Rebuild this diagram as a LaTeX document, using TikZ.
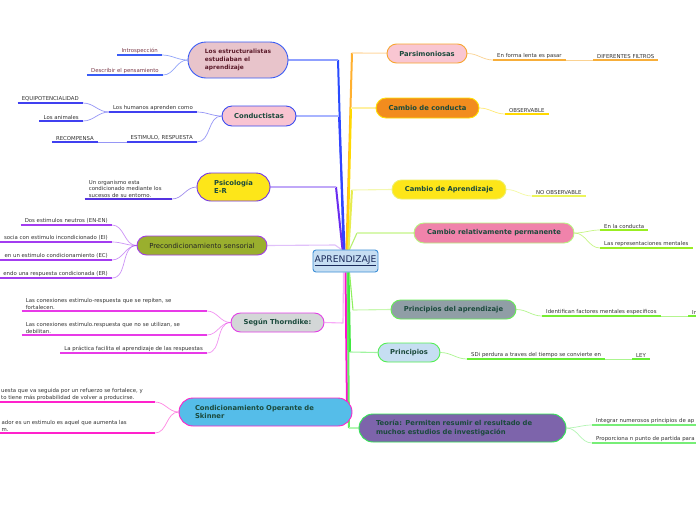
\documentclass[tikz,border=0pt]{standalone}
\usepackage{fontspec}
\setmainfont{DejaVu Sans}
\usetikzlibrary{shapes.misc}
\pgfdeclarelayer{bg}
\pgfdeclarelayer{paper}
\pgfsetlayers{paper,bg,main}
\definecolor{apFill}{HTML}{C6DEF2}
\definecolor{apDraw}{HTML}{3D8FD6}
\definecolor{apText}{HTML}{1A2A5A}
\definecolor{tDark}{HTML}{1B4A3C}
\definecolor{subText}{HTML}{333333}
\definecolor{esText}{HTML}{5B1A2A}
\definecolor{esSub}{HTML}{7A3848}
% topic fills / borders
\definecolor{esFill}{HTML}{E8C4CB}\definecolor{esDraw}{HTML}{3A5CF5}
\definecolor{coFill}{HTML}{F9C4D2}\definecolor{coDraw}{HTML}{3A4CF0}
\definecolor{psFill}{HTML}{FDE619}\definecolor{psDraw}{HTML}{7033E8}
\definecolor{prFill}{HTML}{9AAF2E}\definecolor{prDraw}{HTML}{A23CE8}
\definecolor{thFill}{HTML}{D3D7D7}\definecolor{thDraw}{HTML}{E23EE6}
\definecolor{skFill}{HTML}{55BDE9}\definecolor{skDraw}{HTML}{FF22C8}
\definecolor{paFill}{HTML}{F9C6D2}\definecolor{paDraw}{HTML}{F7A530}
\definecolor{ccFill}{HTML}{F28C1E}\definecolor{ccDraw}{HTML}{FFE000}
\definecolor{caFill}{HTML}{FDE619}\definecolor{caDraw}{HTML}{EEF06A}
\definecolor{crFill}{HTML}{F083AB}\definecolor{crDraw}{HTML}{B7F57E}
\definecolor{pbFill}{HTML}{909EA6}\definecolor{pbDraw}{HTML}{66EE55}
\definecolor{piFill}{HTML}{C6DEF2}\definecolor{piDraw}{HTML}{55EE55}
\definecolor{teFill}{HTML}{7D64AB}\definecolor{teDraw}{HTML}{33E855}
% underline colours
\definecolor{esU}{HTML}{3A5CF5}
\definecolor{coU}{HTML}{4040F0}
\definecolor{psU}{HTML}{5533E0}
\definecolor{prU}{HTML}{A33CF0}
\definecolor{thU}{HTML}{E83AE8}
\definecolor{skU}{HTML}{FF22CC}
\definecolor{paU}{HTML}{F7AE3A}
\definecolor{ccU}{HTML}{FFD800}
\definecolor{caU}{HTML}{ECF55A}
\definecolor{crU}{HTML}{99EE22}
\definecolor{pbU}{HTML}{77EE33}
\definecolor{piU}{HTML}{66EE33}
\definecolor{teU}{HTML}{77EE77}
% trunk colours (strong / light)
\definecolor{esT}{HTML}{2A4CFF}\definecolor{esL}{HTML}{8FA0FF}
\definecolor{coT}{HTML}{3344FF}\definecolor{coL}{HTML}{A8B4FF}
\definecolor{psT}{HTML}{6A2CF0}\definecolor{psL}{HTML}{C0A8F8}
\definecolor{prT}{HTML}{B050F0}\definecolor{prL}{HTML}{E0C0FA}
\definecolor{thT}{HTML}{F040F0}\definecolor{thL}{HTML}{F8A8F8}
\definecolor{skT}{HTML}{FF10D0}
\definecolor{paT}{HTML}{FFB030}\definecolor{paL}{HTML}{FFD8A0}
\definecolor{ccT}{HTML}{FFD800}\definecolor{ccL}{HTML}{FFF0A0}
\definecolor{caT}{HTML}{E6EC50}\definecolor{caL}{HTML}{F4F8B0}
\definecolor{crT}{HTML}{B8F070}\definecolor{crL}{HTML}{D8F8B0}
\definecolor{pbT}{HTML}{90F060}\definecolor{pbL}{HTML}{C8F8B0}
\definecolor{piT}{HTML}{40E840}\definecolor{piL}{HTML}{A0F4A0}
\definecolor{teT}{HTML}{60F060}\definecolor{teL}{HTML}{B0F8B0}
\tikzset{
 topic/.style={rounded rectangle, line width=0.9pt, inner sep=0pt, text=tDark,
   font=\fontsize{6.8}{8.3}\selectfont\bfseries, align=center},
 sub/.style={font=\fontsize{5.4}{6.6}\selectfont, text=subText, inner xsep=4pt,
   inner ysep=1.5pt, align=left},
 ul/.style={draw=#1, line width=1.5pt},
 cn/.style={draw=#1, line width=0.7pt, opacity=0.55},
 tk/.style={draw=#1, line width=2pt, line join=round},
 tl/.style={draw=#1, line width=1.1pt, line join=round},
}
\begin{document}
\begin{tikzpicture}[x=1pt,y=-1pt]
\useasboundingbox (0,0) rectangle (696,520);
\begin{pgfonlayer}{paper}
\fill[white] (0,0) rectangle (696,520);
\end{pgfonlayer}

% central node
\node[rectangle, rounded corners=3pt, fill=apFill, draw=apDraw, line width=0.9pt,
  minimum width=65pt, minimum height=22pt, inner sep=0pt, text=apText,
  font=\fontsize{9.2}{10}\selectfont] (ap) at (345.5,261) {\underline{APRENDIZAJE}};

% left topics
\node[topic, fill=esFill, draw=esDraw, minimum width=100pt, minimum height=36pt,
  text=esText, font=\fontsize{5.9}{8.3}\selectfont\bfseries, align=left] (es) at (238,60)
  {Los estructuralistas\\estudiaban el\\aprendizaje};
\node[topic, fill=coFill, draw=coDraw, minimum width=74pt, minimum height=20pt] (co) at (259,116) {Conductistas};
\node[topic, fill=psFill, draw=psDraw, minimum width=73pt, minimum height=28pt, align=left] (ps) at (233.5,187) {Psicología\\E-R};
\node[topic, fill=prFill, draw=prDraw, minimum width=130pt, minimum height=19pt,
  font=\fontsize{6.9}{8.3}\selectfont, text=black!85] (pr) at (202,245.5) {Precondicionamiento sensorial};
\node[topic, fill=thFill, draw=thDraw, minimum width=93pt, minimum height=19pt] (th) at (277.5,322.5) {Según Thorndike:};
\node[topic, fill=skFill, draw=skDraw, minimum width=173pt, minimum height=28pt, align=left, text width=141pt] (sk) at (265.5,412)
  {Condicionamiento Operante de\\Skinner};

% right topics
\node[topic, fill=paFill, draw=paDraw, minimum width=80pt, minimum height=19pt] (pa) at (427,53.5) {Parsimoniosas};
\node[topic, fill=ccFill, draw=ccDraw, minimum width=103pt, minimum height=20pt] (cc) at (427.5,108) {Cambio de conducta};
\node[topic, fill=caFill, draw=caDraw, minimum width=114pt, minimum height=19pt] (ca) at (449,189.5) {Cambio de Aprendizaje};
\node[topic, fill=crFill, draw=crDraw, minimum width=160pt, minimum height=20pt] (cr) at (494,233) {Cambio relativamente permanente};
\node[topic, fill=pbFill, draw=pbDraw, minimum width=125pt, minimum height=19pt] (pb) at (453.5,309.5) {Principios del aprendizaje};
\node[topic, fill=piFill, draw=piDraw, minimum width=62pt, minimum height=19pt] (pi) at (409,352.5) {Principios};
\node[topic, fill=teFill, draw=teDraw, minimum width=207pt, minimum height=28pt, align=left, text width=173pt] (te) at (462.5,428)
  {Teoría: Permiten resumir el resultado de\\muchos estudios de investigación};

% left sub-topics
\node[sub, text=esSub, anchor=south east] (intro) at (162,55) {Introspección};
\node[sub, text=esSub, anchor=south east] (descr) at (163,75) {Describir el pensamiento};
\node[sub, anchor=south east] (hum) at (197,112) {Los humanos aprenden como};
\node[sub, anchor=south east] (equi) at (83,103) {EQUIPOTENCIALIDAD};
\node[sub, anchor=south east] (anim) at (83,121) {Los animales};
\node[sub, anchor=south east] (estr) at (197,142) {ESTIMULO, RESPUESTA};
\node[sub, anchor=south east] (recom) at (98,142) {RECOMPENSA};
\node[sub, anchor=south east, text width=79pt] (org) at (172,199)
  {Un organismo esta\\condicionado mediante los\\sucesos de su entorno.};
\node[sub, anchor=south east] (dos) at (112,225) {Dos estimulos neutros (EN-EN)};
\node[sub, anchor=south east] (socia) at (112,242) {socia con estimulo incondicionado (EI)};
\node[sub, anchor=south east] (enun) at (112,260) {en un estimulo condicionamiento (EC)};
\node[sub, anchor=south east] (endo) at (112,278) {endo una respuesta condicionada (ER)};
\node[sub, anchor=south east, text width=177pt] (t1) at (207,311)
  {Las conexiones estimulo-respuesta que se repiten, se\\fortalecen.};
\node[sub, anchor=south east, text width=177pt] (t2) at (207,335)
  {Las conexiones estimulo.respuesta que no se utilizan, se\\debilitan.};
\node[sub, anchor=south east] (t3) at (207,353) {La práctica facilita el aprendizaje de las respuestas};
\node[sub, anchor=south east] (s1) at (155,402)
  {uesta que va seguida por un refuerzo se fortalece, y\hspace*{8pt}\\to tiene más probabilidad de volver a producirse.};
\node[sub, anchor=south east] (s2) at (155,433)
  {ador es un estimulo es aquel que aumenta las\hspace*{24pt}\\m.};

% right sub-topics
\node[sub, anchor=south west] (enf) at (493,60) {En forma lenta es pasar};
\node[sub, anchor=south west] (dif) at (593,60) {DIFERENTES FILTROS};
\node[sub, anchor=south west] (obs) at (505,114) {OBSERVABLE};
\node[sub, anchor=south west] (nobs) at (532,196) {NO OBSERVABLE};
\node[sub, anchor=south west] (enl) at (600,230) {En la conducta};
\node[sub, anchor=south west] (rep) at (600,248) {Las representaciones mentales};
\node[sub, anchor=south west] (ide) at (542,316) {Identifican factores mentales especificos};
\node[sub, anchor=south west] (inn) at (688,316) {In};
\node[sub, anchor=south west] (sdi) at (467,359) {SDi perdura a traves del tiempo se convierte en};
\node[sub, anchor=south west] (ley) at (632,359) {LEY};
\node[sub, anchor=south west, text width=100pt] (intg) at (592,425) {Integrar numerosos principios de ap};
\node[sub, anchor=south west, text width=100pt] (prop) at (592,443) {Proporciona n punto de partida para};

% underlines
\foreach \n/\c in {intro/esU, descr/esU, hum/coU, equi/coU, anim/coU, estr/coU, recom/coU,
  org/psU, dos/prU, socia/prU, enun/prU, endo/prU, t1/thU, t2/thU, t3/thU, s1/skU, s2/skU,
  enf/paU, dif/paU, obs/ccU, nobs/caU, enl/crU, rep/crU, ide/pbU, inn/pbU, sdi/piU, ley/piU,
  intg/teU, prop/teU}
  \draw[ul=\c] (\n.south west) -- (\n.south east);

% elbows of trunk connectors
\coordinate (kes) at (338,60);
\coordinate (kco) at (339,116);
\coordinate (kps) at (336,187);
\coordinate (kpr) at (335,245);
\coordinate (kth) at (343,323);
\coordinate (ksk) at (347,405);
\coordinate (kpa) at (352,53);
\coordinate (kcc) at (351,108);
\coordinate (kca) at (352,190);
\coordinate (kcr) at (357,233);
\coordinate (kpb) at (353,310);
\coordinate (kpi) at (350,352);
\coordinate (kte) at (349,428);

\begin{pgfonlayer}{bg}
% trunks
\draw[tk=esT] ([xshift=-2pt]ap.north) -- (kes); \draw[tl=esL] (kes) -- (es.east);
\draw[tk=coT] ([xshift=-1pt]ap.north) -- (kco); \draw[tl=coL] (kco) -- (co.east);
\draw[tk=psT] ([xshift=-3pt]ap.north) -- (kps); \draw[tl=psL] (kps) -- (ps.east);
\draw[tl=prL] ([xshift=-4pt]ap.north) -- (kpr) -- (pr.east);
\draw[tk=paT] ([xshift=1pt]ap.north) -- (kpa); \draw[tl=paL] (kpa) -- (pa.east);
\draw[tk=ccT] ([xshift=2pt]ap.north) -- (kcc); \draw[tl=ccL] (kcc) -- (cc.west);
\draw[tk=caT] ([xshift=3pt]ap.north) -- (kca); \draw[tl=caL] (kca) -- (ca.west);
\draw[tl=crT] ([xshift=4pt]ap.north) -- (kcr); \draw[tl=crL] (kcr) -- (cr.west);
\draw[tl=thL] ([xshift=-2pt]ap.south) -- (kth) -- (th.east);
\draw[tk=skT] ([xshift=0pt]ap.south) -- (ksk);
\draw[tk=teT] ([xshift=2pt]ap.south) -- (kte); \draw[tl=teL] (kte) -- (te.west);
\draw[tk=piT] ([xshift=3pt]ap.south) -- (kpi); \draw[tl=piL] (kpi) -- (pi.west);
\draw[tl=pbT] ([xshift=4pt]ap.south) -- (kpb); \draw[tl=pbL] (kpb) -- (pb.west);
% left sub connectors
\draw[cn=esU] (es.west) to[out=180,in=0] (intro.south east);
\draw[cn=esU] (es.west) to[out=180,in=0] (descr.south east);
\draw[cn=coU] (co.west) to[out=180,in=0] (hum.south east);
\draw[cn=coU] (co.west) to[out=180,in=0] (estr.south east);
\draw[cn=coU] (hum.south west) to[out=180,in=0] (equi.south east);
\draw[cn=coU] (hum.south west) to[out=180,in=0] (anim.south east);
\draw[cn=coU] (estr.south west) -- (recom.south east);
\draw[cn=psU] (ps.west) to[out=180,in=0] (org.south east);
\foreach \n in {dos, socia, enun, endo}
  \draw[cn=prU] (pr.west) to[out=180,in=0] (\n.south east);
\foreach \n in {t1, t2, t3}
  \draw[cn=thU] (th.west) to[out=180,in=0] (\n.south east);
\foreach \n in {s1, s2}
  \draw[cn=skU] (sk.west) to[out=180,in=0] (\n.south east);
% right sub connectors
\draw[cn=paU] (pa.east) to[out=0,in=180] (enf.south west);
\draw[cn=paU] (enf.south east) -- (dif.south west);
\draw[cn=ccU] (cc.east) to[out=0,in=180] (obs.south west);
\draw[cn=caU] (ca.east) to[out=0,in=180] (nobs.south west);
\draw[cn=crU] (cr.east) to[out=0,in=180] (enl.south west);
\draw[cn=crU] (cr.east) to[out=0,in=180] (rep.south west);
\draw[cn=pbU] (pb.east) to[out=0,in=180] (ide.south west);
\draw[cn=pbU] (ide.south east) -- (inn.south west);
\draw[cn=piU] (pi.east) to[out=0,in=180] (sdi.south west);
\draw[cn=piU] (sdi.south east) -- (ley.south west);
\draw[cn=teU] (te.east) to[out=0,in=180] (intg.south west);
\draw[cn=teU] (te.east) to[out=0,in=180] (prop.south west);
\end{pgfonlayer}
\end{tikzpicture}
\end{document}
